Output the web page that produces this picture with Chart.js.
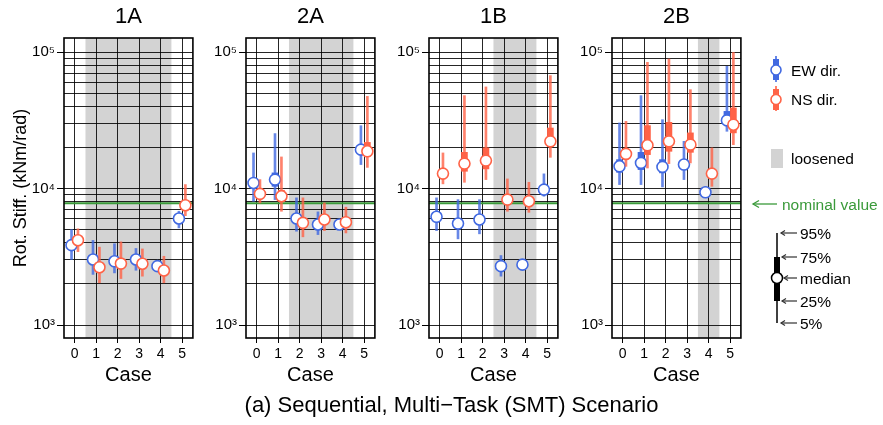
<!DOCTYPE html>
<html>
<head>
<meta charset="utf-8">
<script src="https://cdn.jsdelivr.net/npm/chart.js@4"></script>
<style>
  body { margin: 0; width: 883px; height: 425px; background: #fff; position: relative; overflow: hidden;
         font-family: "Liberation Sans", Arial, sans-serif; }
  .panel { position: absolute; top: 0; width: 200px; height: 392px; }
  #caption { position: absolute; left: 0; width: 903px; top: 392px; text-align: center; font-size: 22px; color: #000; }
  #key { position: absolute; left: 0; top: 0; }
</style>
</head>
<body>
<div class="panel" style="left:0px"><canvas id="c0"></canvas></div>
<div class="panel" style="left:182px"><canvas id="c1"></canvas></div>
<div class="panel" style="left:365px"><canvas id="c2"></canvas></div>
<div class="panel" style="left:548px"><canvas id="c3"></canvas></div>

<svg id="key" width="883" height="425" font-family="Liberation Sans, Arial, sans-serif">
  <!-- EW -->
  <line x1="776" y1="56" x2="776" y2="82" stroke="rgba(65,105,225,0.8)" stroke-width="2"/>
  <rect x="773" y="59" width="6" height="21" fill="#4169e1"/>
  <circle cx="776" cy="70" r="5" fill="#fff" stroke="#4169e1" stroke-width="1.6"/>
  <text x="791" y="75.5" font-size="15.5">EW dir.</text>
  <!-- NS -->
  <line x1="776" y1="86" x2="776" y2="111" stroke="rgba(255,99,71,0.8)" stroke-width="2"/>
  <rect x="773" y="89" width="6" height="21" fill="#ff6347"/>
  <circle cx="776" cy="99.5" r="5" fill="#fff" stroke="#ff6347" stroke-width="1.6"/>
  <text x="791" y="105" font-size="15.5">NS dir.</text>
  <!-- loosened -->
  <rect x="771" y="149" width="12" height="19" fill="#d3d3d3"/>
  <text x="791" y="164" font-size="15.5">loosened</text>
  <!-- nominal -->
  <line x1="753" y1="204" x2="777" y2="204" stroke="#3a9a3a" stroke-width="1.3"/>
  <path d="M759,200.5 L753,204 L759,207.5" fill="none" stroke="#3a9a3a" stroke-width="1.3"/>
  <text x="782" y="209.5" font-size="15.5" fill="#3a9a3a">nominal value</text>
  <!-- percentile key -->
  <line x1="777" y1="233" x2="777" y2="323" stroke="#000" stroke-width="1.5"/>
  <rect x="774" y="257" width="6" height="44" fill="#000"/>
  <circle cx="777" cy="278" r="5.5" fill="#fff" stroke="#000" stroke-width="1.5"/>
  <g stroke="#333" stroke-width="1.2" fill="none">
    <line x1="781" y1="233" x2="797" y2="233"/><path d="M785,230.5 L781,233 L785,235.5"/>
    <line x1="782" y1="257" x2="797" y2="257"/><path d="M786,254.5 L782,257 L786,259.5"/>
    <line x1="784" y1="278" x2="797" y2="278"/><path d="M788,275.5 L784,278 L788,280.5"/>
    <line x1="782" y1="301" x2="797" y2="301"/><path d="M786,298.5 L782,301 L786,303.5"/>
    <line x1="781" y1="323" x2="797" y2="323"/><path d="M785,320.5 L781,323 L785,325.5"/>
  </g>
  <g font-size="15.5">
    <text x="800" y="238.5">95%</text>
    <text x="800" y="262.5">75%</text>
    <text x="800" y="283.5">median</text>
    <text x="800" y="306.5">25%</text>
    <text x="800" y="328.5">5%</text>
  </g>
</svg>

<div id="caption">(a) Sequential, Multi−Task (SMT) Scenario</div>

<script>
Chart.defaults.font.family = '"Liberation Sans", Arial, sans-serif';
Chart.defaults.color = '#000';

const cases = [0, 1, 2, 3, 4, 5];
const panelNames = ['1A', '2A', '1B', '2B'];
const loosened = [[0.5, 4.5], [1.5, 4.5], [2.5, 4.5], [3.5, 4.5]];
const nominal = 7800;
const yMajor = [1000, 10000, 100000];
const yMajorLabels = ['10³', '10⁴', '10⁵'];
const yMinor = [2000, 3000, 4000, 5000, 6000, 7000, 8000, 9000,
                20000, 30000, 40000, 50000, 60000, 70000, 80000, 90000];

// each row: [5%, 25%, median, 75%, 95%] per case
const ew1A = [[3020, 3650, 3850, 4050, 5000], [2350, 2850, 3020, 3200, 4170], [2410, 2780, 2930, 3080, 3940],
              [2520, 2880, 3020, 3180, 3640], [2500, 2620, 2700, 2790, 2880], [5150, 5750, 6030, 6300, 6820]];
const ns1A = [[3450, 3950, 4180, 4420, 5070], [2040, 2500, 2650, 2820, 3720], [2190, 2650, 2820, 3000, 4070],
              [2280, 2650, 2810, 2980, 3610], [2040, 2380, 2510, 2650, 3190], [6330, 7150, 7550, 8000, 10700]];
const ew2A = [[8070, 10400, 11000, 11700, 18250], [8300, 10390, 11640, 13030, 25300], [4870, 5700, 6030, 6350, 8550],
              [4600, 5200, 5450, 5750, 6750], [5150, 5300, 5450, 5600, 5800], [15000, 18200, 19300, 20500, 28900]];
const ns2A = [[7850, 8700, 9140, 9600, 11640], [6820, 8070, 8790, 9720, 17060], [4430, 5300, 5610, 5950, 8550],
              [4920, 5600, 5930, 6250, 7850], [4730, 5400, 5670, 5950, 7300], [14300, 17250, 18760, 21800, 47400]];
const ew1B = [[4920, 5850, 6210, 6600, 8550], [4280, 5200, 5540, 5900, 8300], [4660, 5600, 5930, 6300, 8300],
              [2280, 2580, 2700, 2830, 3230], [2650, 2720, 2770, 2830, 2900], [8790, 9400, 9830, 10300, 12820]];
const ns1B = [[10830, 12200, 12880, 13600, 18250], [11120, 13390, 15240, 18440, 48000], [11640, 13940, 16030, 19880, 55600],
              [6820, 7900, 8300, 8750, 11770], [6700, 7650, 8070, 8500, 11120], [16950, 20400, 22200, 27800, 67300]];
const ew2B = [[10700, 13160, 14560, 16300, 30300], [10700, 13780, 15420, 18440, 48000], [10290, 13030, 14420, 16300, 32000],
              [11640, 14200, 15000, 15900, 22200], [8790, 9100, 9390, 9700, 10290], [26300, 30300, 31600, 36800, 78700]];
const ns2B = [[14560, 17000, 17950, 19000, 31100], [14150, 17740, 20760, 28950, 84200], [15240, 18760, 22200, 30600, 89100],
              [15420, 18440, 20990, 25600, 53100], [10390, 12200, 12880, 13600, 19880], [20990, 25600, 29400, 39000, 99500]];

const ewData = [ew1A, ew2A, ew1B, ew2B];
const nsData = [ns1A, ns2A, ns1B, ns2B];

const blue = '#4169e1', blueThin = 'rgba(65,105,225,0.8)';
const red = '#ff6347', redThin = 'rgba(255,99,71,0.8)';
const gridCol = 'rgba(0,0,0,0.85)';

function boxSets(rows, dx, color, thin, order) {
    return [
        { type: 'bar', data: rows.map((r, i) => ({ x: cases[i] + dx, y: [r[0], r[4]] })),
          backgroundColor: thin, barThickness: 2, grouped: false, order: order + 2 },
        { type: 'bar', data: rows.map((r, i) => ({ x: cases[i] + dx, y: [r[1], r[3]] })),
          backgroundColor: color, barThickness: 6, grouped: false, order: order + 1 },
        { type: 'scatter', data: rows.map((r, i) => ({ x: cases[i] + dx, y: r[2] })),
          pointRadius: 5.5, pointBorderWidth: 1.6, borderColor: color, backgroundColor: '#fff', order: order }
    ];
}

// grey band + frame
const panelDeco = {
    id: 'panelDeco',
    beforeDraw(chart) {
        const { ctx, chartArea: a, scales: { x } } = chart;
        const band = loosened[chart.options.plugins.panelDeco.idx];
        ctx.save();
        ctx.fillStyle = '#d3d3d3';
        const x0 = x.getPixelForValue(band[0]), x1 = x.getPixelForValue(band[1]);
        ctx.fillRect(x0, a.top, x1 - x0, a.bottom - a.top);
        ctx.restore();
    },
    afterDraw(chart) {
        const { ctx, chartArea: a } = chart;
        ctx.save();
        ctx.strokeStyle = '#000';
        ctx.lineWidth = 1.6;
        ctx.strokeRect(a.left, a.top, a.right - a.left, a.bottom - a.top);
        ctx.restore();
    }
};

panelNames.forEach((name, p) => {
    const datasets = [
        { type: 'line', data: [{ x: -0.5, y: nominal }, { x: 5.5, y: nominal }],
          borderColor: '#3a9a3a', borderWidth: 2, pointRadius: 0, order: 20 },
        ...boxSets(ewData[p], -0.15, blue, blueThin, 7),
        ...boxSets(nsData[p], 0.15, red, redThin, 4)
    ];

    new Chart(document.getElementById('c' + p), {
        type: 'scatter',
        data: { datasets },
        plugins: [panelDeco],
        options: {
            responsive: true,
            maintainAspectRatio: false,
            animation: false,
            events: [],
            devicePixelRatio: 1,
            layout: { padding: { left: 0, right: 6, top: 0, bottom: 0 } },
            plugins: {
                legend: { display: false },
                tooltip: { enabled: false },
                panelDeco: { idx: p },
                title: {
                    display: true, text: name, fullSize: false,
                    font: { size: 22, weight: 'normal' }, color: '#000',
                    padding: { top: 4, bottom: 7.6 }
                }
            },
            scales: {
                x: {
                    type: 'linear', min: -0.5, max: 5.5, offset: false,
                    afterBuildTicks: s => { s.ticks = cases.map(v => ({ value: v })); },
                    afterFit: s => { s.height = 54; },
                    grid: { color: gridCol, lineWidth: 1, tickLength: 5, tickColor: '#000', offset: false },
                    border: { display: false },
                    ticks: { font: { size: 14 }, padding: 3, autoSkip: false, maxRotation: 0 },
                    title: { display: true, text: 'Case', font: { size: 20 }, padding: { top: 0, bottom: 5 } }
                },
                y: {
                    type: 'logarithmic', min: 803, max: 127000,
                    afterBuildTicks: s => { s.ticks = yMajor.concat(yMinor).sort((a, b) => a - b).map(v => ({ value: v })); },
                    afterFit: s => { s.width = 64; },
                    grid: {
                        color: gridCol, lineWidth: 1, tickLength: 7,
                        tickColor: c => yMajor.includes(c.tick.value) ? '#000' : 'rgba(0,0,0,0)'
                    },
                    border: { display: false },
                    ticks: {
                        font: { size: 15 }, padding: 2, autoSkip: false,
                        callback: v => { const k = yMajor.indexOf(v); return k >= 0 ? yMajorLabels[k] : ''; }
                    },
                    title: {
                        display: p === 0, text: 'Rot. Stiff. (kNm/rad)',
                        font: { size: 18 }, padding: { top: 10, bottom: 0 }
                    }
                }
            }
        }
    });
});
</script>
</body>
</html>
